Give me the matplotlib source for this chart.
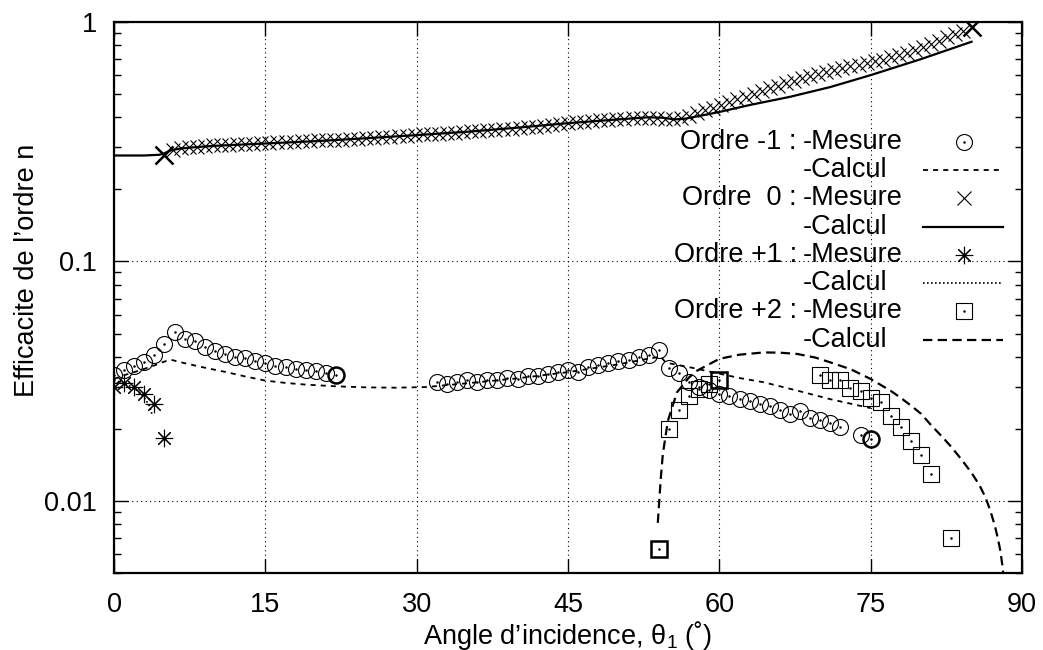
import numpy as np
import matplotlib
matplotlib.use("Agg")
import matplotlib.pyplot as plt
from matplotlib.lines import Line2D
from matplotlib.ticker import LogLocator, FixedLocator, NullFormatter, FixedFormatter

plt.rcParams['font.family'] = ['Liberation Sans', 'DejaVu Sans']
plt.rcParams['mathtext.fontset'] = 'custom'
plt.rcParams['mathtext.rm'] = 'Liberation Sans'
plt.rcParams['mathtext.default'] = 'regular'

# ---------------- data ----------------
# Order -1 measured
m1_x = list(range(0, 23)) + list(range(32, 73)) + [74, 75]
m1_y = [0.0337, 0.0353, 0.0367, 0.0382, 0.0408, 0.0453, 0.0506, 0.0475, 0.0464, 0.0441,
        0.0421, 0.0411, 0.0400, 0.0395, 0.0385, 0.0378, 0.0367, 0.0361, 0.0357, 0.0352,
        0.0348, 0.0341, 0.0337,
        0.0315, 0.0308, 0.0313, 0.0320, 0.0313, 0.0320, 0.0320, 0.0326, 0.0323, 0.0333,
        0.0333, 0.0339, 0.0344, 0.0352, 0.0344, 0.0364, 0.0369, 0.0375, 0.0383, 0.0388,
        0.0398, 0.0408, 0.0427,
        0.0358, 0.0342, 0.0315, 0.0298, 0.0291, 0.0279, 0.0273, 0.0266, 0.0262, 0.0255,
        0.0248, 0.0240, 0.0231, 0.0237, 0.0223, 0.0218, 0.0211, 0.0204,
        0.0188, 0.0182]
m1_bold = [22, 75]

# Order -1 computed
c1_x = [0, 1, 2, 3, 4, 5, 5.7, 7, 9, 11, 13, 15, 17, 19, 22, 25, 28, 31, 35, 40, 45, 50,
        53, 54.2, 54.7, 57, 60, 62, 64.4, 67.7, 71, 75]
c1_y = [0.0323, 0.0335, 0.0345, 0.0356, 0.0368, 0.0382, 0.0388, 0.0376, 0.0360, 0.0346,
        0.0331, 0.0318, 0.0311, 0.0306, 0.0301, 0.0298, 0.0297, 0.0299, 0.0310, 0.0325,
        0.0345, 0.0372, 0.0393, 0.0400, 0.0378, 0.0362, 0.0340, 0.0326, 0.0313, 0.0289,
        0.0266, 0.0244]

# Order 0 measured (angle step 0.8 deg from 5 to 85)
m0_x = np.round(np.arange(5.0, 85.01, 0.8), 1)
m0_y = [0.278, 0.292, 0.297, 0.300, 0.302, 0.303, 0.305, 0.306, 0.307, 0.308,
        0.309, 0.310, 0.311, 0.313, 0.314, 0.315, 0.316, 0.317, 0.318, 0.320,
        0.321, 0.322, 0.323, 0.325, 0.326, 0.327, 0.329, 0.330, 0.331, 0.333,
        0.335, 0.337, 0.339, 0.340, 0.342, 0.343, 0.345, 0.347, 0.349, 0.351,
        0.353, 0.355, 0.357, 0.359, 0.362, 0.364, 0.366, 0.369, 0.372, 0.375,
        0.378, 0.381, 0.383, 0.385, 0.388, 0.390, 0.392, 0.394, 0.396, 0.398,
        0.399, 0.398, 0.395, 0.393, 0.396, 0.405, 0.417, 0.428, 0.439, 0.450,
        0.462, 0.475, 0.488, 0.502, 0.516, 0.530, 0.543, 0.556, 0.569, 0.582,
        0.595, 0.607, 0.619, 0.631, 0.642, 0.652, 0.663, 0.673, 0.684, 0.697,
        0.711, 0.727, 0.745, 0.765, 0.786, 0.810, 0.836, 0.862, 0.888, 0.915,
        0.950]

# Order 0 computed
c0_x = [0, 3, 4.5, 5, 5.5, 6.5, 8, 10, 15, 20, 25, 30, 35, 40, 45, 50, 53, 54.5, 55.5,
        56.5, 58, 60, 63, 67, 71, 75, 80, 85]
c0_y = [0.277, 0.277, 0.279, 0.283, 0.290, 0.296, 0.300, 0.304, 0.311, 0.318, 0.327,
        0.337, 0.348, 0.362, 0.378, 0.392, 0.400, 0.398, 0.392, 0.394, 0.405, 0.421,
        0.450, 0.487, 0.535, 0.600, 0.700, 0.827]

# Order +1 measured / computed
p1_x = [0, 1, 2, 3, 4, 5]
p1_y = [0.0298, 0.0312, 0.0298, 0.0279, 0.0255, 0.0184]
cp1_x = [0, 1, 2, 3, 3.5, 3.8]
cp1_y = [0.0320, 0.0310, 0.0296, 0.0270, 0.0250, 0.0228]

# Order +2 measured / computed
p2_x = [54, 55, 56, 57, 58, 59, 60, 70, 71, 72, 73, 74, 75, 76, 77, 78, 79, 80, 81, 83]
p2_y = [0.00628, 0.0200, 0.0240, 0.0273, 0.0293, 0.0308, 0.0320, 0.0337, 0.0321, 0.0320,
        0.0295, 0.0289, 0.0268, 0.0258, 0.0227, 0.0203, 0.0178, 0.0155, 0.0130, 0.00702]
p2_bold = [54, 60]
cp2_x = [53.9, 54.2, 54.4, 54.9, 55.8, 57, 57.8, 60, 62, 64.4, 66, 67.7, 69.5, 71, 73, 75,
         76, 77, 78, 79, 80, 81, 82, 83, 84, 85, 85.8, 86.4, 86.9, 87.3, 87.6, 87.85,
         88.05, 88.2]
cp2_y = [0.0081, 0.0125, 0.0157, 0.0216, 0.0284, 0.0328, 0.0350, 0.0392, 0.0408, 0.0417,
         0.0416, 0.0411, 0.0397, 0.0379, 0.0355, 0.0323, 0.0305, 0.0288, 0.0269, 0.0250,
         0.0231, 0.0207, 0.0187, 0.0168, 0.0149, 0.0131, 0.0116, 0.0103, 0.0090, 0.0079,
         0.0070, 0.0062, 0.0054, 0.0047]

x_ticks = [0, 15, 30, 45, 60, 75, 90]
y_ticks = [0.01, 0.1, 1]
y_ticklabels = ['0.01', '0.1', '1']

# ---------------- styles ----------------
FS = 19.5
st_m1 = dict(marker='o', ms=11.5, mfc='none', mec='black', mew=0.8, ls='none')
st_m0 = dict(marker='x', ms=10.5, mec='black', mew=0.8, ls='none')
st_p1 = dict(marker=(8, 2, 0), ms=12.5, mec='black', mew=0.8, ls='none')
st_p2 = dict(marker='s', ms=11, mfc='none', mec='black', mew=0.8, ls='none')
st_c1 = dict(color='black', lw=1.3, ls=(0, (2.8, 2.8)))
st_c0 = dict(color='black', lw=1.6, ls='-')
st_cp1 = dict(color='black', lw=1.2, ls=(0, (1.0, 1.4)))
st_cp2 = dict(color='black', lw=1.6, ls=(0, (4.2, 2.4)))
dot = dict(marker='.', ms=1.6, color='black', ls='none')

fig = plt.figure(figsize=(10.43, 6.5), dpi=100)
ax = fig.add_axes([114/1043, 1 - 573/650, 908/1043, 551/650])
ax.set_yscale('log')
ax.set_xlim(0, 90)
ax.set_ylim(0.005, 1)

# grid
ax.grid(True, which='major', ls=(0, (1, 3)), color='black', lw=0.8)

# curves
ax.plot(c1_x, c1_y, **st_c1)
ax.plot(c0_x, c0_y, **st_c0)
ax.plot(cp1_x, cp1_y, **st_cp1)
ax.plot(cp2_x, cp2_y, **st_cp2)

# measurements
ax.plot(m1_x, m1_y, **st_m1)
ax.plot(m1_x, m1_y, **dot)
ax.plot(m0_x, m0_y, **st_m0)
ax.plot(p1_x, p1_y, **st_p1)
ax.plot(p2_x, p2_y, **st_p2)
ax.plot(p2_x, p2_y, **dot)

# emphasised (overplotted) points
bx = [m1_x.index(v) for v in m1_bold]
ax.plot([m1_x[i] for i in bx], [m1_y[i] for i in bx], marker='o', ms=11.5, mfc='none',
        mec='black', mew=1.8, ls='none')
bx = [p2_x.index(v) for v in p2_bold]
ax.plot([p2_x[i] for i in bx], [p2_y[i] for i in bx], marker='s', ms=11, mfc='none',
        mec='black', mew=1.8, ls='none')
ax.plot([m0_x[0], m0_x[-1]], [m0_y[0], m0_y[-1]], marker='x', ms=13, mec='black',
        mew=1.8, ls='none')

# ticks
ax.xaxis.set_major_locator(FixedLocator(x_ticks))
ax.yaxis.set_major_locator(FixedLocator(y_ticks))
ax.yaxis.set_major_formatter(FixedFormatter(y_ticklabels))
ax.yaxis.set_minor_locator(LogLocator(base=10, subs=np.arange(2, 10)))
ax.yaxis.set_minor_formatter(NullFormatter())
ax.tick_params(which='both', direction='in', top=True, right=True, width=1.0,
               labelsize=FS)
ax.tick_params(which='major', length=10)
ax.tick_params(which='minor', length=5)
ax.tick_params(axis='x', pad=14)
ax.tick_params(axis='y', pad=12)
for s in ax.spines.values():
    s.set_linewidth(1.6)

ax.set_xlabel('Angle d\u2019incidence, \u03b8$_1$ (\u02da)', fontsize=FS)
ax.set_ylabel('Efficacite de l\u2019ordre n', fontsize=FS)
ax.xaxis.set_label_coords(0.5, -0.083)
ax.yaxis.set_label_coords(-0.0815, 0.55)

# legend (drawn manually, gnuplot style)
rows = [("Ordre -1 :", "-Mesure", st_m1, True),
        ("", "-Calcul", st_c1, False),
        ("Ordre  0 :", "-Mesure", st_m0, True),
        ("", "-Calcul", st_c0, False),
        ("Ordre +1 :", "-Mesure", st_p1, True),
        ("", "-Calcul", st_cp1, False),
        ("Ordre +2 :", "-Mesure", st_p2, True),
        ("", "-Calcul", st_cp2, False)]
y0 = (573 - 141.7) / 551
dy = 28.3 / 551
xc = (797 - 114) / 908
xt = (803 - 114) / 908
xm = (964 - 114) / 908
xl0 = (923 - 114) / 908
xl1 = (1003 - 114) / 908
for i, (a, b, st, is_marker) in enumerate(rows):
    yy = y0 - i * dy
    if a:
        ax.text(xc, yy, a, transform=ax.transAxes, ha='right', va='center', fontsize=FS)
    ax.text(xt, yy, b, transform=ax.transAxes, ha='left', va='center', fontsize=FS)
    if is_marker:
        ln = Line2D([xm], [yy], transform=ax.transAxes, **st)
        ax.add_line(ln)
        if st['marker'] in ('o', 's'):
            ax.add_line(Line2D([xm], [yy], transform=ax.transAxes, **dot))
    else:
        ln = Line2D([xl0, xl1], [yy, yy], transform=ax.transAxes, **st)
        ax.add_line(ln)

fig.savefig('out.png', dpi=100)
